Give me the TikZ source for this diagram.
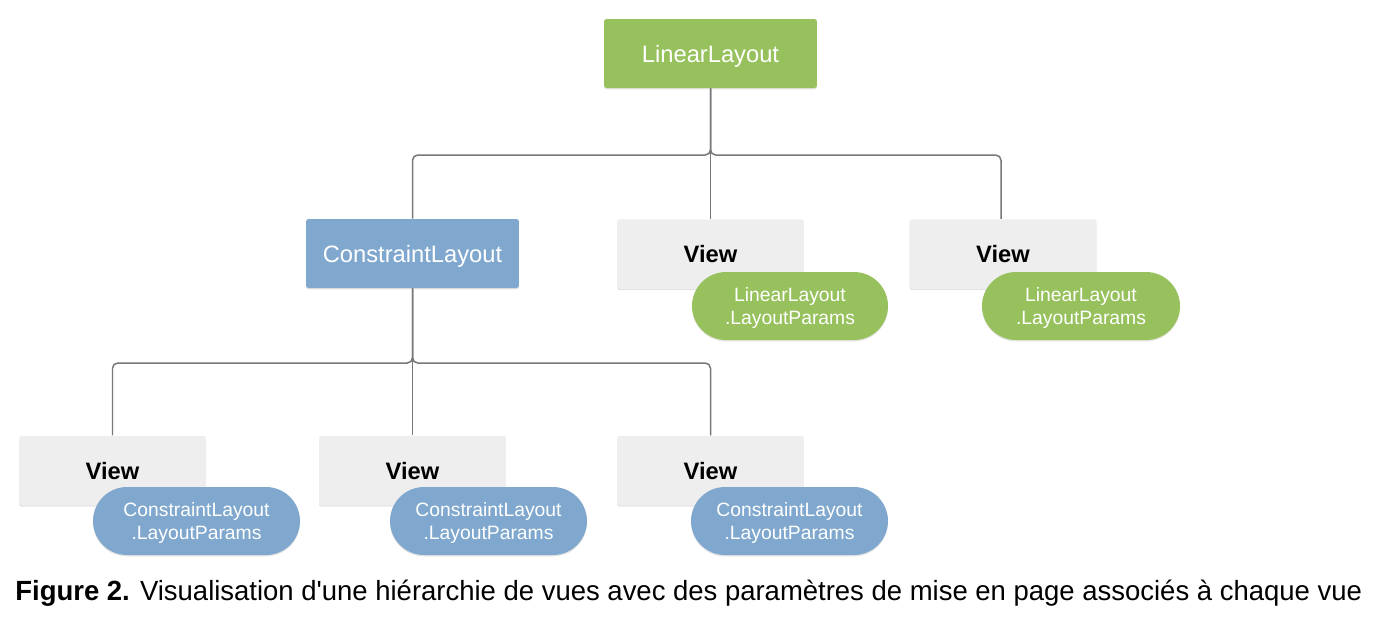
\documentclass[tikz,border=0pt]{standalone}
\usepackage{fontspec}
\setmainfont{Liberation Sans}[Ligatures=TeXOff]
\usepackage{graphicx}
\usetikzlibrary{shapes.misc,shadows}
\definecolor{lgreen}{RGB}{151,193,92}
\definecolor{lblue}{RGB}{128,168,206}
\definecolor{lgray}{RGB}{238,238,238}
\definecolor{wire}{RGB}{120,120,120}
\newsavebox\capbox
\begin{document}
\sbox\capbox{\fontsize{15.8}{19}\selectfont\textbf{Figure 2.} Visualisation d'une hiérarchie de vues avec des paramètres de mise en page associés à chaque vue}%
\begin{tikzpicture}[x=0.02cm,y=-0.02cm,
  boxbase/.style={rectangle,rounded corners=1.5pt,inner sep=0pt,text height=9.7pt,text depth=0pt,
    drop shadow={opacity=0.22,shadow xshift=0pt,shadow yshift=-0.8pt}},
  greenbox/.style={boxbase,fill=lgreen,text=white,minimum width=4.26cm,minimum height=1.38cm,font=\fontsize{13.5}{16}\selectfont},
  bluebox/.style={boxbase,fill=lblue,text=white,minimum width=4.26cm,minimum height=1.38cm,font=\fontsize{13.5}{16}\selectfont},
  viewbox/.style={boxbase,fill=lgray,text=black,minimum width=3.74cm,minimum height=1.39cm,font=\bfseries\fontsize{13.5}{16}\selectfont},
  pill/.style={rounded rectangle,inner sep=0pt,minimum height=1.36cm,text=white,align=center,
    text depth=0pt,
    font=\fontsize{11}{13.6}\selectfont,
    drop shadow={opacity=0.22,shadow xshift=0pt,shadow yshift=-0.8pt}},
  gpill/.style={pill,fill=lgreen},
  bpill/.style={pill,fill=lblue},
  wirestyle/.style={draw=wire,line width=0.85pt,rounded corners=3pt}
]
\useasboundingbox (0,0) rectangle (1376,620);

\node[greenbox] (root) at (710.5,53.5) {LinearLayout};
\node[bluebox] (cl) at (412.5,253.5) {ConstraintLayout};
\node[viewbox] (v1) at (710.5,254) {View};
\node[viewbox] (v2) at (1003,254) {View};
\node[gpill,minimum width=3.92cm] (p1) at (790,306) {LinearLayout\\.LayoutParams};
\node[gpill,minimum width=3.96cm] (p2) at (1081,306) {LinearLayout\\.LayoutParams};

\node[viewbox] (b1) at (112.5,470.5) {View};
\node[viewbox] (b2) at (412.5,470.5) {View};
\node[viewbox] (b3) at (710.5,470.5) {View};
\node[bpill,minimum width=4.14cm] (q1) at (196.5,521) {ConstraintLayout\\.LayoutParams};
\node[bpill,minimum width=3.94cm] (q2) at (488.5,521) {ConstraintLayout\\.LayoutParams};
\node[bpill,minimum width=3.94cm] (q3) at (789.5,521) {ConstraintLayout\\.LayoutParams};

\coordinate (bus1) at (710.5,155);
\coordinate (bus2) at (412.5,363);

\draw[wirestyle] (root.south) |- (bus1) -| (cl.north);
\draw[wirestyle] (root.south) -- (v1.north);
\draw[wirestyle] (root.south) |- (bus1) -| ([xshift=-0.04cm]v2.north);

\draw[wirestyle] (cl.south) |- (bus2) -| (b1.north);
\draw[wirestyle] (cl.south) -- (b2.north);
\draw[wirestyle] (cl.south) |- (bus2) -| (b3.north);

\node[anchor=base west,inner sep=0pt] (cap) at (15,600) {\resizebox{26.94cm}{\height}{\usebox\capbox}};
\end{tikzpicture}
\end{document}
